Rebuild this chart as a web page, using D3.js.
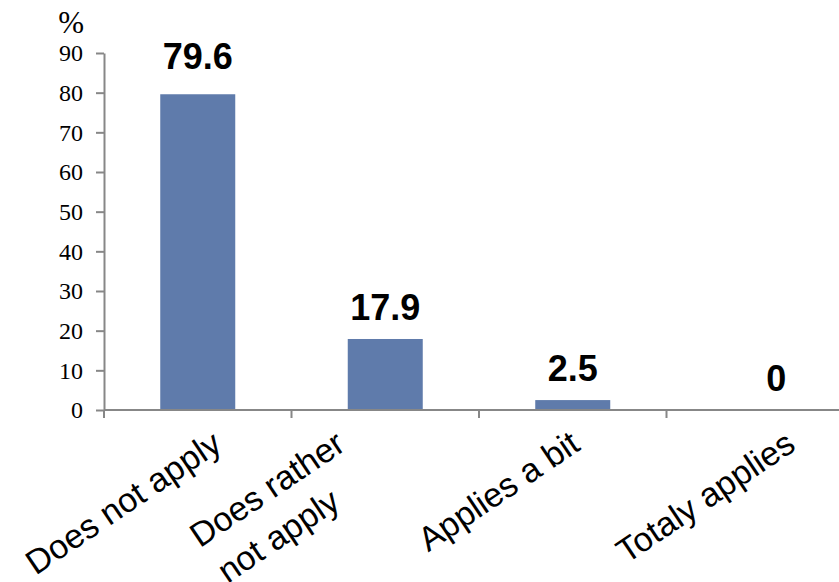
<!DOCTYPE html>
<html>
<head>
<meta charset="utf-8">
<script src="https://cdn.jsdelivr.net/npm/d3@7"></script>
<style>
  html, body { margin: 0; padding: 0; background: #fff; }
  svg { display: block; }
</style>
</head>
<body>
<svg id="chart" width="839" height="582"></svg>
<script>
const categories = [["Does not apply"], ["Does rather", "not apply"], ["Applies a bit"], ["Totaly applies"]];
const values = [79.6, 17.9, 2.5, 0];
const valueLabels = ["79.6", "17.9", "2.5", "0"];
const yTicks = [0, 10, 20, 30, 40, 50, 60, 70, 80, 90];
const yUnit = "%";

const svg = d3.select("#chart");
const axisColor = "#878787";
const barColor = "#5f7bab";

const x = d3.scaleBand().domain(d3.range(categories.length)).range([104, 854]).paddingInner(0).paddingOuter(0);
const y = d3.scaleLinear().domain([0, 90]).range([410, 53]);
const barW = x.bandwidth() * 0.4;

// bars
svg.append("g").selectAll("rect").data(values).join("rect")
  .attr("x", (d, i) => x(i) + (x.bandwidth() - barW) / 2)
  .attr("y", d => y(d))
  .attr("width", barW)
  .attr("height", d => y(0) - y(d))
  .attr("fill", barColor);

// y axis
const yAxis = d3.axisLeft(y).tickValues(yTicks).tickSize(8).tickPadding(13).tickSizeOuter(0);
const gy = svg.append("g").attr("transform", "translate(104,0)").call(yAxis);
gy.select(".domain").attr("stroke", axisColor).attr("stroke-width", 2);
gy.selectAll(".tick line").attr("stroke", axisColor).attr("stroke-width", 2);
gy.selectAll(".tick text")
  .attr("font-family", "'Liberation Serif', 'Times New Roman', serif")
  .attr("font-size", 24).attr("fill", "#000").attr("dy", "0.33em");

svg.append("text").attr("x", 84).attr("y", 33).attr("text-anchor", "end")
  .attr("font-family", "'Liberation Serif', 'Times New Roman', serif")
  .attr("font-size", 31).attr("fill", "#000").text(yUnit);

// x axis line
svg.append("line").attr("x1", 104).attr("x2", 854).attr("y1", y(0)).attr("y2", y(0))
  .attr("stroke", axisColor).attr("stroke-width", 2);
// category boundary ticks
const bounds = d3.range(categories.length + 1).map(i => i < categories.length ? x(i) : x(i - 1) + x.bandwidth());
svg.append("g").selectAll("line").data(bounds).join("line")
  .attr("x1", d => d).attr("x2", d => d).attr("y1", y(0)).attr("y2", y(0) + 8)
  .attr("stroke", axisColor).attr("stroke-width", 2);

// value labels
svg.append("g").selectAll("text").data(values).join("text")
  .attr("x", (d, i) => x(i) + x.bandwidth() / 2 + (d === 0 ? 16 : 0))
  .attr("y", d => y(d) - (d > 50 ? 25 : 19))
  .attr("text-anchor", "middle")
  .attr("font-family", "'Liberation Sans', Arial, sans-serif")
  .attr("font-weight", "bold").attr("font-size", 36).attr("fill", "#000")
  .text((d, i) => valueLabels[i]);

// category labels (rotated, end anchored; layout nudges per label)
const angle = -34;
const catFont = 34;
const lineGap = 45;
const labelNudge = [26, -38, 9, 37];
const gc = svg.append("g");
categories.forEach((lines, i) => {
  const cx = x(i) + x.bandwidth() / 2;
  const g = gc.append("g").attr("transform", `translate(${cx + labelNudge[i]},449) rotate(${angle})`);
  const t1 = g.append("text").attr("x", 0).attr("y", 0).attr("text-anchor", "end")
    .attr("font-family", "'Liberation Sans', Arial, sans-serif")
    .attr("font-size", catFont).attr("fill", "#000").text(lines[0]);
  const w1 = t1.node().getComputedTextLength();
  lines.slice(1).forEach((ln, k) => {
    g.append("text").attr("x", -w1 + 3).attr("y", lineGap * (k + 1)).attr("text-anchor", "start")
      .attr("font-family", "'Liberation Sans', Arial, sans-serif")
      .attr("font-size", catFont).attr("fill", "#000").text(ln);
  });
});
</script>
</body>
</html>
